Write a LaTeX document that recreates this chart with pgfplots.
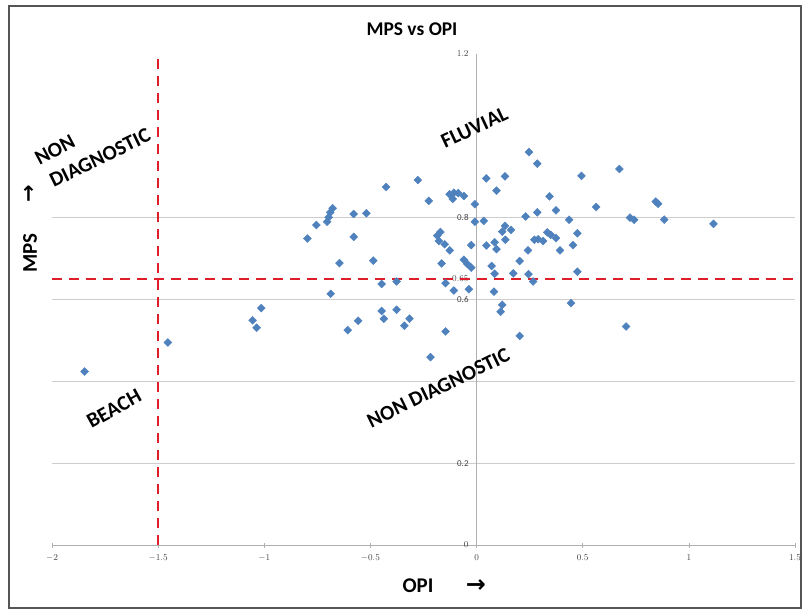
\documentclass[border=0pt]{standalone}
\usepackage{fontspec}
\setmainfont{Carlito}
\newfontfamily\symfont{DejaVu Sans}
\usepackage{pgfplots}
\usepackage{pgfplotstable}
\pgfplotsset{compat=1.18}

\definecolor{ptblue}{HTML}{4F81BD}
\definecolor{divred}{RGB}{222,30,40}
\definecolor{gridgray}{RGB}{205,205,205}
\definecolor{axisgray}{RGB}{175,175,175}
\definecolor{framegray}{RGB}{85,85,85}

% OPI and MPS of each sample
\pgfplotstableread{
opi mps
-1.846 0.424
-1.454 0.495
-1.055 0.549
-1.036 0.531
-1.014 0.579
-0.797 0.749
-0.755 0.782
-0.704 0.790
-0.697 0.801
-0.689 0.813
-0.678 0.823
-0.687 0.614
-0.646 0.689
-0.607 0.525
-0.579 0.809
-0.579 0.753
-0.558 0.548
-0.519 0.811
-0.487 0.695
-0.447 0.638
-0.447 0.572
-0.437 0.553
-0.426 0.875
-0.377 0.644
-0.377 0.575
-0.340 0.536
-0.316 0.553
-0.277 0.892
-0.225 0.841
-0.217 0.459
-0.185 0.756
-0.178 0.743
-0.170 0.765
-0.165 0.688
-0.150 0.735
-0.146 0.640
-0.146 0.522
-0.127 0.857
-0.126 0.720
-0.112 0.846
-0.107 0.861
-0.107 0.622
-0.086 0.860
-0.060 0.853
-0.060 0.697
-0.044 0.687
-0.036 0.625
-0.025 0.678
-0.025 0.733
-0.008 0.833
-0.008 0.790
0.034 0.792
0.046 0.896
0.046 0.732
0.071 0.682
0.082 0.619
0.085 0.663
0.085 0.740
0.094 0.723
0.094 0.866
0.113 0.570
0.121 0.587
0.121 0.766
0.134 0.901
0.134 0.780
0.136 0.746
0.162 0.770
0.173 0.664
0.203 0.694
0.203 0.511
0.231 0.803
0.242 0.720
0.245 0.662
0.247 0.960
0.266 0.644
0.272 0.746
0.290 0.747
0.313 0.743
0.286 0.813
0.286 0.932
0.333 0.764
0.349 0.758
0.374 0.750
0.344 0.852
0.374 0.818
0.393 0.720
0.436 0.795
0.445 0.591
0.454 0.733
0.475 0.762
0.475 0.668
0.494 0.902
0.563 0.826
0.673 0.919
0.704 0.534
0.723 0.800
0.742 0.795
0.844 0.839
0.855 0.834
0.884 0.795
1.116 0.785
}\samples

\begin{document}
\begin{tikzpicture}
\useasboundingbox (-52bp,-65bp) rectangle (751bp,545bp);
\draw[framegray, line width=1.6bp] (-43bp,-63bp) rectangle (749bp,539bp);
\begin{axis}[
    at={(0,0)}, anchor=south west,
    scale only axis, width=743bp, height=491bp,
    xmin=-2, xmax=1.5, ymin=0, ymax=1.2,
    enlargelimits=false,
    axis lines=middle,
    axis line style={-, draw=axisgray, line width=0.8bp},
    hide obscured x ticks=false, hide obscured y ticks=false,
    xtick={-2,-1.5,-1,-0.5,0,0.5,1,1.5},
    ytick={0.2,0.4,0.6,0.8}, yticklabels={0.2,,0.6,0.8},
    extra y ticks={0,0.65,1.2},
    extra y tick style={grid=none},
    ymajorgrids,
    grid style={gridgray, line width=0.8bp},
    xtick style={axisgray, line width=0.6bp},
    ytick style={draw=none},
    major tick length=5bp,
    tick align=center,
    ticklabel style={font=\fontsize{9}{9}\selectfont, text=black!75},
    xticklabel style={anchor=north, yshift=-4bp},
    yticklabel style={anchor=east, xshift=-2bp},
    clip=false,
]
\addplot[only marks, mark=square*, mark size=2.8bp,
    mark options={rotate=45, fill=ptblue, draw=ptblue}]
    table[x=opi, y=mps] {\samples};
\addplot[divred, line width=2.4bp, dash pattern=on 10bp off 7bp]
    coordinates {(-2,0.65) (1.5,0.65)};
\addplot[divred, line width=2.4bp, dash pattern=on 10bp off 7bp]
    coordinates {(-1.5,0) (-1.5,1.2)};

\node[font=\bfseries\fontsize{21}{21}\selectfont, rotate=25]
    at (axis cs:-0.01,1.02) {FLUVIAL};
\node[font=\bfseries\fontsize{21}{21}\selectfont, rotate=26]
    at (axis cs:-0.18,0.384) {NON DIAGNOSTIC};
\node[font=\bfseries\fontsize{21}{21}\selectfont, rotate=29]
    at (axis cs:-1.708,0.333) {BEACH};
\node[font=\bfseries\fontsize{21}{21}\selectfont, rotate=28]
    at (axis cs:-1.986,0.966) {NON};
\node[font=\bfseries\fontsize{21}{21}\selectfont, rotate=26]
    at (axis cs:-1.774,0.946) {DIAGNOSTIC};
\end{axis}
\node[font=\bfseries\fontsize{19.5}{19.5}\selectfont] at (360bp,516bp) {MPS vs OPI};
\node[font=\bfseries\fontsize{21}{21}\selectfont] at (366bp,-41bp) {OPI};
\node[font=\fontsize{24}{24}\selectfont\symfont\bfseries] at (424bp,-41bp) {→};
\node[font=\bfseries\fontsize{21}{21}\selectfont, rotate=90] at (-22bp,292bp) {MPS};
\node[font=\fontsize{21}{21}\selectfont\symfont\bfseries, rotate=90] at (-22bp,351bp) {→};
\end{tikzpicture}
\end{document}
